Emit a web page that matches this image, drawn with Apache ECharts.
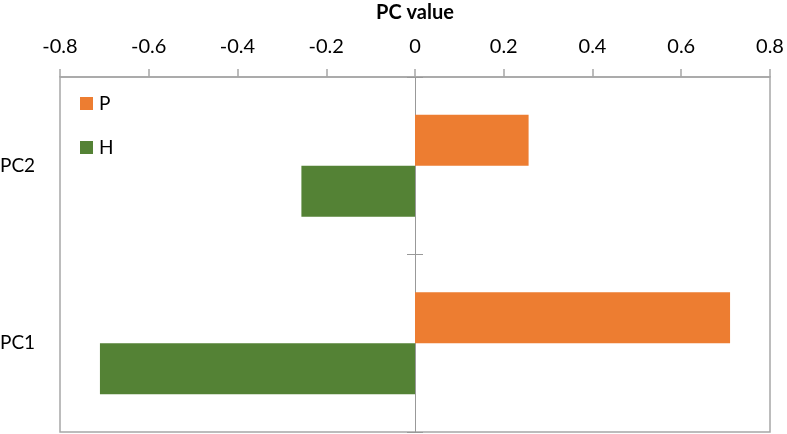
<!DOCTYPE html>
<html><head><meta charset="utf-8">
<script src="https://cdn.jsdelivr.net/npm/echarts@6/dist/echarts.min.js"></script>
<style>html,body{margin:0;padding:0;background:#fff}#c{width:787px;height:434px}</style>
</head><body><div id="c"></div>
<script>
var categories = ['PC1', 'PC2'];
var seriesP = [0.71, 0.256];
var seriesH = [-0.71, -0.256];
var xTicks = { min: -0.8, max: 0.8, interval: 0.2 };
var font = 'Lato, "Open Sans", sans-serif';

var chart = echarts.init(document.getElementById('c'));
chart.setOption({
  animation: false,
  textStyle: { fontFamily: font },
  grid: { left: 60, right: 17, top: 77, bottom: 2, show: true, borderColor: '#a6a6a6', borderWidth: 1.5,
    containLabel: false, outerBoundsMode: 'none' },
  legend: {
    data: ['P', 'H'], orient: 'vertical', left: 80, top: 94, padding: 0,
    itemWidth: 13, itemHeight: 13, itemGap: 25, icon: 'rect',
    textStyle: { fontSize: 19, color: '#000', fontFamily: font, padding: [0, 0, 0, 1] }
  },
  xAxis: {
    type: 'value', position: 'top', min: xTicks.min, max: xTicks.max, interval: xTicks.interval,
    name: 'PC value', nameLocation: 'middle', nameGap: 54,
    nameTextStyle: { fontSize: 20, fontWeight: 'bold', color: '#000', fontFamily: font },
    axisLine: { show: true, onZero: false, lineStyle: { color: '#a6a6a6', width: 1.5 } },
    axisTick: { show: true, length: 8, lineStyle: { color: '#a6a6a6', width: 1.5 } },
    axisLabel: { fontSize: 20, color: '#000', margin: 20, fontFamily: font,
      formatter: function (v) { return Math.abs(v) < 1e-9 ? '0' : String(Math.round(v * 10) / 10); } },
    splitLine: { show: false }
  },
  yAxis: [{
    type: 'category', data: categories, position: 'left',
    axisLine: { show: false, onZero: false },
    axisTick: { show: false },
    axisLabel: { fontSize: 19, color: '#000', align: 'left', margin: 60, fontFamily: font }
  }, {
    type: 'category', data: categories, position: 'left', offset: -355,
    axisLine: { show: true, onZero: false, lineStyle: { color: '#999', width: 1 } },
    axisTick: { show: true, length: 8, lineStyle: { color: '#999', width: 1 } },
    axisLabel: { show: false }
  }, {
    type: 'category', data: categories, position: 'left', offset: -355,
    axisLine: { show: false, onZero: false },
    axisTick: { show: true, inside: true, length: 8, lineStyle: { color: '#999', width: 1 } },
    axisLabel: { show: false }
  }],
  series: [
    { name: 'P', type: 'bar', data: seriesP, yAxisIndex: 0, barWidth: 51, barGap: '0%',
      itemStyle: { color: '#ED7D31' } },
    { name: 'H', type: 'bar', data: seriesH, yAxisIndex: 0, barWidth: 51, barGap: '0%',
      itemStyle: { color: '#548235' } }
  ]
});
</script></body></html>
